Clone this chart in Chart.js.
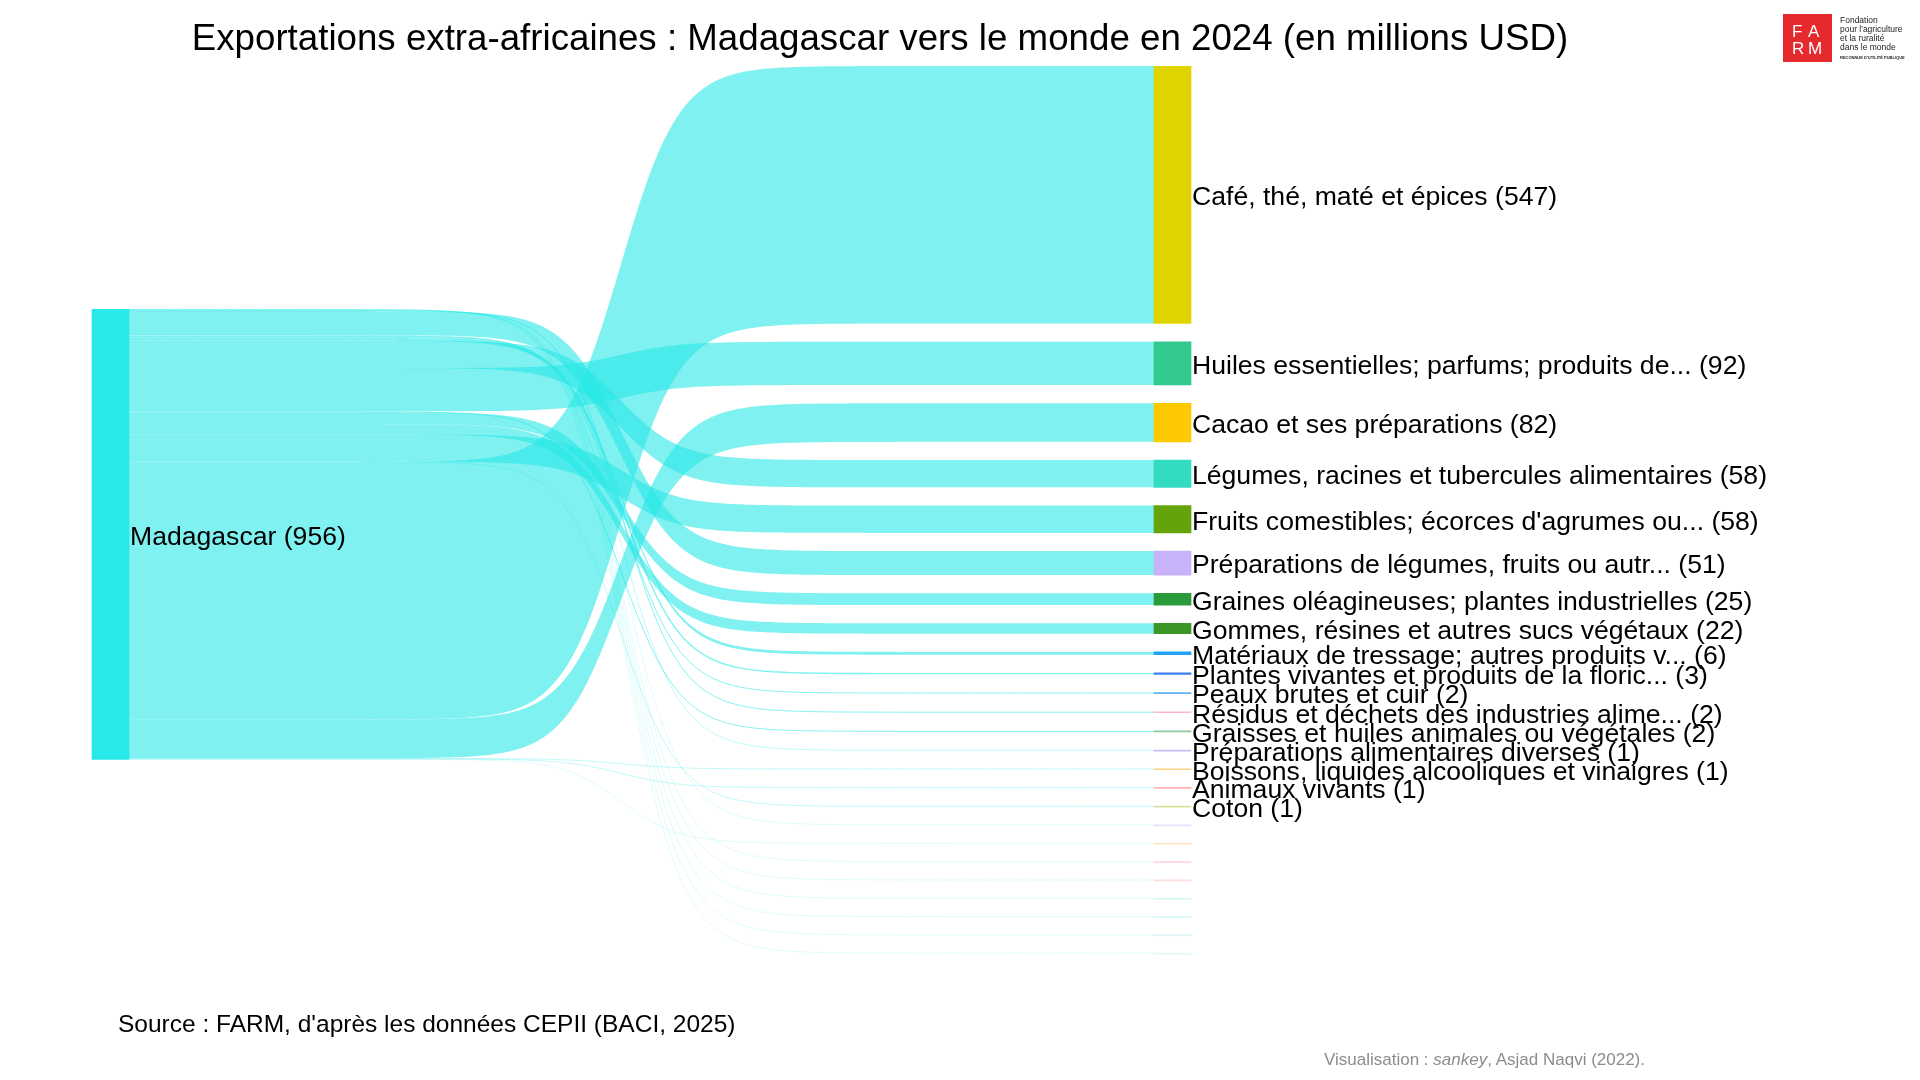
<!DOCTYPE html>
<html lang="fr">
<head>
<meta charset="utf-8">
<title>Exportations extra-africaines : Madagascar 2024</title>
<script src="https://cdn.jsdelivr.net/npm/chart.js@4.4.1/dist/chart.umd.min.js"></script>
<style>
  html, body { margin: 0; padding: 0; background: #fff; }
  body { font-family: "Liberation Sans", Arial, sans-serif; color: #000; }
  .page { position: relative; width: 1920px; height: 1080px; overflow: hidden; }
  #sankey { position: absolute; left: 0; top: 0; }
  .title { position: absolute; left: 0; width: 1760px; top: 15px; text-align: center; font-size: 36.7px; line-height: 46px; white-space: nowrap; }
  .source { position: absolute; left: 118px; top: 1010px; font-size: 24.5px; line-height: 28px; }
  .credit { position: absolute; left: 1324px; top: 1050px; font-size: 17px; line-height: 20px; color: #8c8c8c; }
  .logo-mark { position: absolute; left: 1783px; top: 14px; width: 49px; height: 48px; background: #e42a2c; color: #fff; font-size: 17px; line-height: 17px; }
  .logo-mark span { position: absolute; }
  .logo-text { position: absolute; left: 1840px; top: 16px; font-size: 8.5px; line-height: 9px; color: #222; white-space: nowrap; }
  .logo-text .small { font-size: 4px; font-weight: bold; line-height: 9px; }
</style>
</head>
<body>
<div class="page">
  <canvas id="sankey" width="1920" height="1080"></canvas>
  <div class="title">Exportations extra-africaines : Madagascar vers le monde en 2024 (en millions USD)</div>
  <div class="source">Source : FARM, d'après les données CEPII (BACI, 2025)</div>
  <div class="credit">Visualisation : <i>sankey</i>, Asjad Naqvi (2022).</div>
  <div class="logo-mark">
    <span style="left:9px;top:9px">F</span><span style="left:25px;top:9px">A</span>
    <span style="left:9px;top:26px">R</span><span style="left:25px;top:26px">M</span>
  </div>
  <div class="logo-text">Fondation<br>pour l'agriculture<br>et la ruralité<br>dans le monde<br><span class="small">RECONNUE D'UTILITÉ PUBLIQUE</span></div>
</div>

<script>
const sourceName = "Madagascar";

// postes (chapitres SH), de haut en bas dans la colonne de droite
const productLabels = [
  "Café, thé, maté et épices",
  "Huiles essentielles; parfums; produits de...",
  "Cacao et ses préparations",
  "Légumes, racines et tubercules alimentaires",
  "Fruits comestibles; écorces d'agrumes ou...",
  "Préparations de légumes, fruits ou autr...",
  "Graines oléagineuses; plantes industrielles",
  "Gommes, résines et autres sucs végétaux",
  "Matériaux de tressage; autres produits v...",
  "Plantes vivantes et produits de la floric...",
  "Peaux brutes et cuir",
  "Résidus et déchets des industries alime...",
  "Graisses et huiles animales ou végétales",
  "Préparations alimentaires diverses",
  "Boissons, liquides alcooliques et vinaigres",
  "Animaux vivants",
  "Coton",
  "", "", "", "", "", "", "", ""   // petits postes (< 0,5), sans étiquette
];

// millions USD
const exportValues = [547, 92, 82, 58, 58, 51, 25, 22, 6, 3, 2, 2, 2, 1, 1, 1, 1,
                      0.4, 0.3, 0.3, 0.3, 0.2, 0.2, 0.1, 0.1];

const productColors = [
  "#e0d400", "#31c98e", "#fdc900", "#33dcc0", "#64a30a", "#c8b2fa", "#2a9a3d", "#3a9725",
  "#1fa2f7", "#3d7df0", "#62b0f5", "#ffb6c8", "#8acb9a", "#c9bdf5", "#ffd27f", "#ffb5b5",
  "#d8e39a", "#e2e2ff", "#ffe3bd", "#ffd6dc", "#ffdcdc", "#d2f5f1", "#d8f6f6", "#dcf6f8", "#e4f9f9"
];

// ordre des flux au départ de Madagascar (haut -> bas), index dans productLabels
const sourceOrder = [24, 23, 22, 21, 20, 19, 17, 11, 5, 13, 9, 10, 8, 3, 1, 12, 6, 7, 4, 16, 0, 2, 14, 15, 18];

const NODE_GAP = 38.7;     // espace entre postes, en unités de l'axe
const SOURCE_TOP = 517;    // haut du nœud Madagascar, en unités de l'axe
const FLOW_COLOR = "rgba(40, 232, 230, 0.6)";
const SMOOTH = 35, MID = 0.48;

const total = exportValues.reduce((a, b) => a + b, 0);

const productStart = [];
let acc = 0;
exportValues.forEach(v => { productStart.push(acc); acc += v + NODE_GAP; });

const flowStart = new Array(exportValues.length);
let pos = SOURCE_TOP;
sourceOrder.forEach(i => { flowStart[i] = pos; pos += exportValues[i]; });

function ease(t) {
  const f = u => 1 / (1 + Math.exp(-SMOOTH * (u - MID)));
  return (f(t) - f(0)) / (f(1) - f(0));
}

const flowsPlugin = {
  id: "flows",
  beforeDatasetsDraw(chart) {
    const { ctx, scales: { y } } = chart;
    const src = chart.getDatasetMeta(0).data[0];
    const dst = chart.getDatasetMeta(1).data;
    if (!src || !dst.length) return;
    const x0 = src.x + src.width / 2;
    const x1 = dst[0].x - dst[0].width / 2;
    const N = 240;
    ctx.save();
    ctx.fillStyle = FLOW_COLOR;
    ctx.strokeStyle = FLOW_COLOR;
    exportValues.forEach((v, i) => {
      const a0 = y.getPixelForValue(flowStart[i]), a1 = y.getPixelForValue(flowStart[i] + v);
      const b0 = y.getPixelForValue(productStart[i]), b1 = y.getPixelForValue(productStart[i] + v);
      const thick = a1 - a0;
      ctx.beginPath();
      if (thick < 1.5) {
        for (let k = 0; k <= N; k++) {
          const t = k / N, e = ease(t);
          const yy = (a0 + a1) / 2 + ((b0 + b1) / 2 - (a0 + a1) / 2) * e;
          const xx = x0 + (x1 - x0) * t;
          k ? ctx.lineTo(xx, yy) : ctx.moveTo(xx, yy);
        }
        ctx.lineWidth = Math.max(thick, 0.25);
        ctx.stroke();
      } else {
        for (let k = 0; k <= N; k++) {
          const t = k / N;
          const xx = x0 + (x1 - x0) * t;
          const yy = a0 + (b0 - a0) * ease(t);
          k ? ctx.lineTo(xx, yy) : ctx.moveTo(xx, yy);
        }
        for (let k = N; k >= 0; k--) {
          const t = k / N;
          ctx.lineTo(x0 + (x1 - x0) * t, a1 + (b1 - a1) * ease(t));
        }
        ctx.closePath();
        ctx.fill();
      }
    });
    ctx.restore();
  }
};

const labelsPlugin = {
  id: "nodeLabels",
  afterDatasetsDraw(chart) {
    const ctx = chart.ctx;
    const src = chart.getDatasetMeta(0).data[0];
    const dst = chart.getDatasetMeta(1).data;
    const dy = 3;
    ctx.save();
    ctx.font = "26.6px 'Liberation Sans', Arial, sans-serif";
    ctx.fillStyle = "#000";
    ctx.textBaseline = "middle";
    ctx.fillText(`${sourceName} (${Math.round(total)})`, src.x + src.width / 2 + 1, (src.y + src.base) / 2 + dy);
    dst.forEach((bar, i) => {
      const v = Math.round(exportValues[i]);
      if (!productLabels[i] || v < 1) return;
      ctx.fillText(`${productLabels[i]} (${v})`, bar.x + bar.width / 2 + 1, (bar.y + bar.base) / 2 + dy);
    });
    ctx.restore();
  }
};

new Chart(document.getElementById("sankey"), {
  type: "bar",
  data: {
    datasets: [
      {
        label: sourceName,
        data: [{ x: 0, y: [SOURCE_TOP, SOURCE_TOP + total] }],
        backgroundColor: "#28e9e7",
        barThickness: 37,
        grouped: false,
        borderWidth: 0
      },
      {
        label: "Postes",
        data: exportValues.map((v, i) => ({ x: 1, y: [productStart[i], productStart[i] + v] })),
        backgroundColor: productColors,
        barThickness: 37,
        minBarLength: 1,
        grouped: false,
        borderWidth: 0
      }
    ]
  },
  options: {
    responsive: false,
    animation: false,
    events: [],
    layout: { padding: { top: 66, bottom: 0, left: 0, right: 0 } },
    scales: {
      x: { type: "linear", min: -0.10405, max: 1.70386, offset: false, display: false },
      y: { type: "linear", min: 0, max: 2154, reverse: true, display: false }
    },
    plugins: { legend: { display: false }, tooltip: { enabled: false }, title: { display: false } }
  },
  plugins: [flowsPlugin, labelsPlugin]
});
</script>
</body>
</html>
